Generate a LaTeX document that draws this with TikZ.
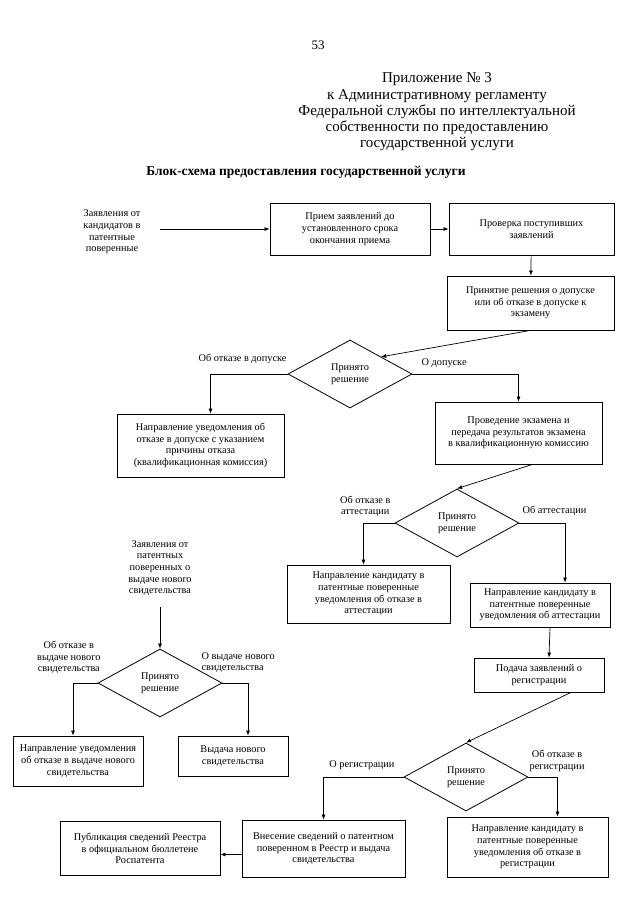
\documentclass[tikz,border=0pt]{standalone}
\usepackage{fontspec}
\setmainfont{Liberation Serif}
\usetikzlibrary{shapes,arrows,positioning,calc,arrows.meta}

\begin{document}
\begin{tikzpicture}[x=1pt, y=-1pt,
    blok/.style={draw, line width=0.8pt, align=center, inner sep=2pt, font=\fontsize{10.3}{11.7}\selectfont},
    romb/.style={draw, diamond, line width=0.8pt, align=center, inner sep=0pt, minimum width=124pt, minimum height=68pt, font=\fontsize{10.3}{11.7}\selectfont},
    metka/.style={align=center, inner sep=1pt, font=\fontsize{10.3}{11.7}\selectfont},
    strelka/.style={-{Latex[length=5pt,width=4pt]}, line width=0.7pt}]
    \useasboundingbox (0,0) rectangle (640,905);

    \node [font=\fontsize{13}{15}\selectfont] (nomer) at (318,45) {53};
    \node [align=center, font=\fontsize{15}{16.3}\selectfont] (prilozh) at (437,112) {Приложение № 3\\к Административному регламенту\\Федеральной службы по интеллектуальной\\собственности по предоставлению\\государственной услуги};
    \node [font=\bfseries\fontsize{13.5}{15}\selectfont] (zagolovok) at (306,172) {Блок-схема предоставления государственной услуги};

    \node [metka] (vhod1) at (112,232) {Заявления от\\кандидатов в\\патентные\\поверенные};
    \node [blok, minimum width=160pt, minimum height=52pt] (priem) at (350,229) {Прием заявлений до\\установленного срока\\окончания приема};
    \node [blok, minimum width=165pt, minimum height=52pt] (proverka) at (531.5,229) {Проверка поступивших\\заявлений};
    \node [blok, minimum width=167pt, minimum height=54pt] (reshenie) at (530.5,303) {Принятие решения о допуске\\или об отказе в допуске к\\экзамену};
    \node [romb] (resh1) at (350,374) {Принято\\решение};
    \node [blok, minimum width=167pt, minimum height=63pt] (otkazdop) at (200.5,445.5) {Направление уведомления об\\отказе в допуске с указанием\\причины отказа\\(квалификационная комиссия)};
    \node [blok, minimum width=167pt, minimum height=62pt] (ekzamen) at (518.5,433) {Проведение экзамена и\\передача результатов экзамена\\в квалификационную комиссию};
    \node [romb] (resh2) at (457,523) {Принято\\решение};
    \node [blok, minimum width=163pt, minimum height=58pt] (otkazatt) at (368.5,594) {Направление кандидату в\\патентные поверенные\\уведомления об отказе в\\аттестации};
    \node [blok, minimum width=140pt, minimum height=44pt] (attest) at (540,605) {Направление кандидату в\\патентные поверенные\\уведомления об аттестации};
    \node [blok, minimum width=130pt, minimum height=34pt] (podacha) at (539,675) {Подача заявлений о\\регистрации};

    \node [metka] (vhod2) at (160,568) {Заявления от\\патентных\\поверенных о\\выдаче нового\\свидетельства};
    \node [romb] (resh3) at (160,683) {Принято\\решение};
    \node [blok, minimum width=130pt, minimum height=50pt] (otkazsvid) at (78,761) {Направление уведомления\\об отказе в выдаче нового\\свидетельства};
    \node [blok, minimum width=110pt, minimum height=40pt] (vydacha) at (233,756) {Выдача нового\\свидетельства};

    \node [romb] (resh4) at (466,777) {Принято\\решение};
    \node [blok, minimum width=163pt, minimum height=57pt] (vnesenie) at (323.5,848.5) {Внесение сведений о патентном\\поверенном в Реестр и выдача\\свидетельства};
    \node [blok, minimum width=160pt, minimum height=54pt] (publik) at (140,848.5) {Публикация сведений Реестра\\в официальном бюллетене\\Роспатента};
    \node [blok, minimum width=161pt, minimum height=60pt] (otkazreg) at (527.5,847) {Направление кандидату в\\патентные поверенные\\уведомления об отказе в\\регистрации};

    \node [metka, above left=9pt and 0pt of resh1.west] {Об отказе в допуске};
    \node [metka, above right=5pt and 8pt of resh1.east] {О допуске};
    \node [metka, above left=5pt and 3pt of resh2.west] {Об отказе в\\аттестации};
    \node [metka, above right=6pt and 2pt of resh2.east] {Об аттестации};
    \node [metka, above left=8pt and -4pt of resh3.west] {Об отказе в\\выдаче нового\\свидетельства};
    \node [metka, align=left, above right=9pt and -22pt of resh3.east] {О выдаче нового\\свидетельства};
    \node [metka, above left=6pt and 8pt of resh4.west] {О регистрации};
    \node [metka, above right=4pt and 0pt of resh4.east] {Об отказе в\\регистрации};

    \draw [strelka] ([xshift=18pt]priem.west -| vhod1.east) -- (priem.west);
    \draw [strelka] (priem) -- (proverka);
    \draw [strelka] (proverka) -- (reshenie);
    \draw [strelka] (reshenie.south) -- (resh1.north east);
    \draw [strelka] (resh1.west) -| ([xshift=10pt]otkazdop.north);
    \draw [strelka] (resh1.east) -| (ekzamen.north);
    \draw [strelka] ([xshift=14pt]ekzamen.south) -- (resh2.north);
    \draw [strelka] (resh2.west) -| ([xshift=-5pt]otkazatt.north);
    \draw [strelka] (resh2.east) -| ([xshift=25pt]attest.north);
    \draw [strelka] ([xshift=10pt]attest.south) -- ([xshift=10pt]podacha.north);
    \draw [strelka] ([yshift=-10pt]vhod2.south) -- (resh3.north);
    \draw [strelka] (resh3.west) -| ([xshift=-5pt]otkazsvid.north);
    \draw [strelka] (resh3.east) -| ([xshift=15pt]vydacha.north);
    \draw [strelka] ([xshift=32pt]podacha.south) -- (resh4.north);
    \draw [strelka] (resh4.west) -| (vnesenie.north);
    \draw [strelka] (resh4.east) -| ([xshift=30pt]otkazreg.north);
    \draw [strelka] ([yshift=-6pt]vnesenie.west) -- ([yshift=-6pt]vnesenie.west -| publik.east);
\end{tikzpicture}
\end{document}
